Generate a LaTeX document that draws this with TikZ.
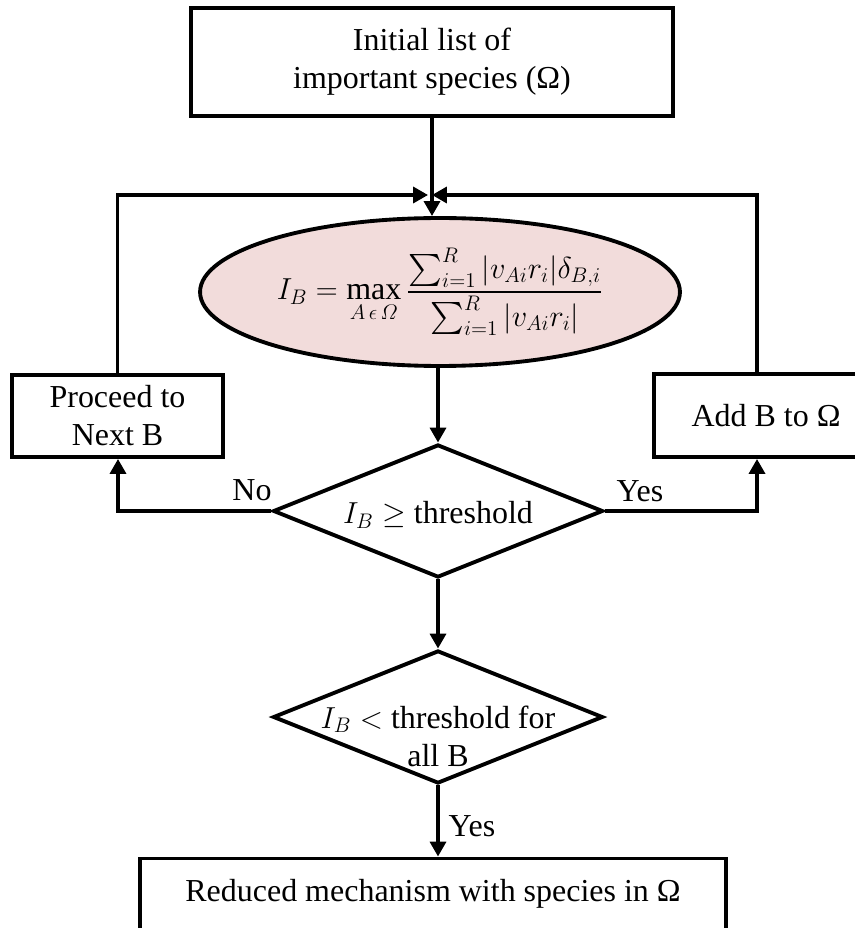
\documentclass[tikz,border=0pt]{standalone}
\usepackage{amsmath,amssymb}
\usepackage{fontspec}
\setmainfont{Liberation Serif}
\usepackage{tikz}
\usetikzlibrary{shapes.geometric, arrows.meta, positioning, calc}
\definecolor{indexpink}{RGB}{242,220,219}
\newcommand{\flowfont}{\fontsize{18.2pt}{21.6pt}\selectfont}
\tikzset{
  flowbox/.style={
    draw, line width=2.2pt, align=center,
    font=\flowfont, fill=white, inner sep=0pt
  },
  flowellipse/.style={
    ellipse, draw, line width=2.2pt, fill=indexpink,
    minimum width=9.6cm, minimum height=2.96cm,
    inner sep=0pt, font=\flowfont
  },
  flowdiamond/.style={
    diamond, draw, line width=2.2pt, fill=white,
    minimum width=6.6cm, minimum height=2.66cm, inner sep=0pt
  },
  flowtext/.style={
    font=\flowfont, align=center, inner sep=0pt
  },
  flowarrow/.style={
    -{Triangle[length=8.5pt, width=9pt]}, line width=2.2pt
  },
  flowlabel/.style={
    font=\flowfont, inner sep=0pt
  },
}

\begin{document}
\begin{tikzpicture}[x=0.02cm, y=-0.02cm]
  \useasboundingbox (0,0) rectangle (854,928);

  % ── Main column ──
  \node[flowbox, minimum width=9.64cm, minimum height=2.16cm]
    (initial) at (432,62)
    {Initial list of\\important species (Ω)};

  \node[flowellipse] (index) at (440,292)
    {$\displaystyle I_B = \max_{A\,\epsilon\,\varOmega}
      \frac{\sum_{i=1}^{R}|v_{Ai}r_i|\delta_{B,i}}{\sum_{i=1}^{R}|v_{Ai}r_i|}$};

  \node[flowdiamond,
    label={[flowtext, yshift=-0.08cm]center:$I_B \geq$ threshold}]
    (check) at (438,511) {};

  \node[flowdiamond,
    label={[flowtext, yshift=-0.38cm]center:$I_B <$ threshold for\\all B}]
    (final) at (438,717) {};

  \node[flowbox, minimum width=11.72cm, minimum height=1.42cm]
    (reduced) at (433,894)
    {Reduced mechanism with species in Ω};

  % ── Side boxes ──
  \node[flowbox, minimum width=4.22cm, minimum height=1.64cm]
    (proceed) at (117.5,416) {Proceed to\\Next B};

  \node[flowbox, minimum width=4.48cm, minimum height=1.66cm]
    (addb) at (766,415.5) {Add B to Ω};

  % ── Turning points ──
  \coordinate (merge) at (430,195);
  \coordinate (noturn) at (118,511);
  \coordinate (yesturn) at (757,511);

  % ── Connectors ──
  \draw[flowarrow] (initial.south) -- (initial.south |- index.north);
  \draw[flowarrow] (proceed.north) |- ([xshift=-1.1pt]merge);
  \draw[flowarrow] (yesturn |- addb.north) |- ([xshift=1.1pt]merge);
  \draw[flowarrow] (check.north |- index.south) -- (check.north);
  \draw[flowarrow] (check.south) -- (final.north);
  \draw[flowarrow] (final.south) -- (final.south |- reduced.north);
  \draw[flowarrow] (check.west) -- (check.west -| noturn)
    -- (proceed.south -| noturn);
  \draw[flowarrow] (check.east) -- (check.east -| yesturn)
    -- (addb.south -| yesturn);

  % ── Branch labels ──
  \node[flowlabel] (nolabel) at (252,490) {No};
  \node[flowlabel] (yeslabel) at (640,491) {Yes};
  \node[flowlabel] (yesdown) at (472,826) {Yes};
\end{tikzpicture}
\end{document}
